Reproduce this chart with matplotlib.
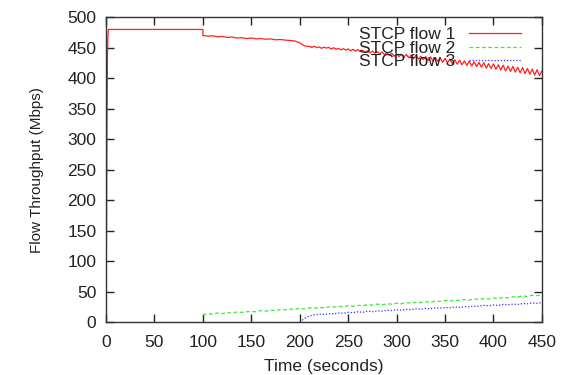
# Flow throughput of three STCP flows over time (gnuplot-style line chart).

import numpy as np
import matplotlib.pyplot as plt

plt.rcParams['font.family'] = ['Liberation Sans', 'DejaVu Sans']

# flow 1: start-up ramp, then plateau until the second flow joins
t1_start = [0, 0.5, 1.0, 1.5, 2.0, 2.5, 100, 100]
v1_start = [0, 150, 330, 440, 472, 480, 480, 470]

# flow 1: 100..200 s, step 5
t1_mid = np.arange(100, 201, 5)
v1_mid = [470, 469, 469.5, 468, 468.5, 467, 467.5, 466, 466.5, 465,
          466, 464.5, 465, 464, 464.5, 463, 463.5, 462.5, 462, 461, 458]

# flow 1: 205 s and 210..450 s, step 2.5
t1_late = np.concatenate([[205], np.arange(210, 450.1, 2.5)])
v1_late = [453,
           452, 450.5, 452.5, 450, 451.5, 449, 451, 449.5, 450.5, 448,
           450, 447.5, 449, 446.5, 448.5, 446, 448, 445, 447.5, 444.5,
           447, 443.5, 446, 442.5, 445, 441.5, 444.5, 441, 443.5, 440,
           443, 438.5, 442, 437.5, 441, 436, 440.5, 435.5, 439.5, 434.5,
           439, 433.5, 438, 432, 437.5, 431.5, 436, 430.5, 435.5, 429,
           435, 428, 434, 427.5, 433, 426, 432.5, 425.5, 431, 424,
           430.5, 423, 429.5, 422, 428.5, 421, 428, 420, 427, 419,
           426, 418, 425.5, 416.5, 424, 416, 423.5, 414.5, 422, 413.5,
           421.5, 412, 420, 411, 419.5, 410, 418, 409, 417.5, 407.5,
           416, 406.5, 415, 405, 414, 404, 412]

# flow 2: 100..450 s, step 5
t2 = np.arange(100, 451, 5)
v2 = [12, 14, 13, 15, 14, 15.5, 15, 16.5, 16, 17,
      17.5, 17, 19, 18, 19.5, 19, 20.5, 20, 21.5, 21,
      22.5, 21.5, 23.5, 23, 24, 23.5, 25, 24.5, 26, 25,
      27, 26, 27.5, 27, 28.5, 28, 29.5, 28.5, 30, 29.5,
      31, 30, 32, 31, 32.5, 32, 33.5, 32.5, 34.5, 34,
      35.5, 34.5, 36, 35.5, 37, 36, 38, 37, 38.5, 38,
      39.5, 38.5, 40.5, 40, 41.5, 41, 43, 42, 44, 43.5,
      45]

# flow 3: 200..450 s, step 5
t3 = np.arange(200, 451, 5)
v3 = [0, 6, 10, 12, 13, 12.5, 14, 13.5, 15, 14.5,
      16, 15.5, 17, 16, 18, 17, 18.5, 18, 19.5, 19,
      20.5, 19.5, 21, 20.5, 22, 21, 22.5, 22, 23.5, 23,
      24, 23.5, 25, 24, 25.5, 25, 26.5, 26, 27.5, 27,
      28, 27.5, 29, 28.5, 29.5, 29, 30.5, 30, 31.5, 31,
      32]

labels = ["STCP flow 1", "STCP flow 2", "STCP flow 3"]
xticks = np.arange(0, 451, 50)
yticks = np.arange(0, 501, 50)

fig = plt.figure(figsize=(5.61, 3.75), dpi=100)
ax = fig.add_axes([0.189, 0.141, 0.777, 0.813])

t1 = np.concatenate([t1_start, t1_mid, t1_late])
v1 = np.concatenate([v1_start, v1_mid, v1_late])
ax.plot(t1, v1, color='#ff2020', lw=0.9, label=labels[0])
ax.plot(t2, v2, color='#33ee33', lw=0.9, ls=(0, (3, 2)), label=labels[1])
ax.plot(t3, v3, color='#3333ff', lw=0.9, ls=(0, (1, 1.5)), label=labels[2])

ax.set_xlim(0, 450)
ax.set_ylim(0, 500)
ax.set_xticks(xticks)
ax.set_yticks(yticks)
ax.tick_params(direction='in', length=6, width=1, top=True, right=True,
               labelsize=12.5, colors='#222222')
ax.tick_params(axis='x', pad=9)
ax.tick_params(axis='y', pad=7)
for s in ax.spines.values():
    s.set_color('#333333')
    s.set_linewidth(1)

ax.set_xlabel("Time (seconds)", fontsize=12.5, color='#222222', labelpad=7)
ax.set_ylabel("Flow Throughput (Mbps)", fontsize=11, color='#222222', labelpad=17)

leg = ax.legend(loc='upper right', bbox_to_anchor=(0.975, 1.0), frameon=False,
                markerfirst=False, fontsize=12.5, handlelength=3.0,
                labelspacing=-0.08, handletextpad=0.8, borderaxespad=0.15)
for txt in leg.get_texts():
    txt.set_color('#222222')

fig.savefig("out.png", dpi=100)
